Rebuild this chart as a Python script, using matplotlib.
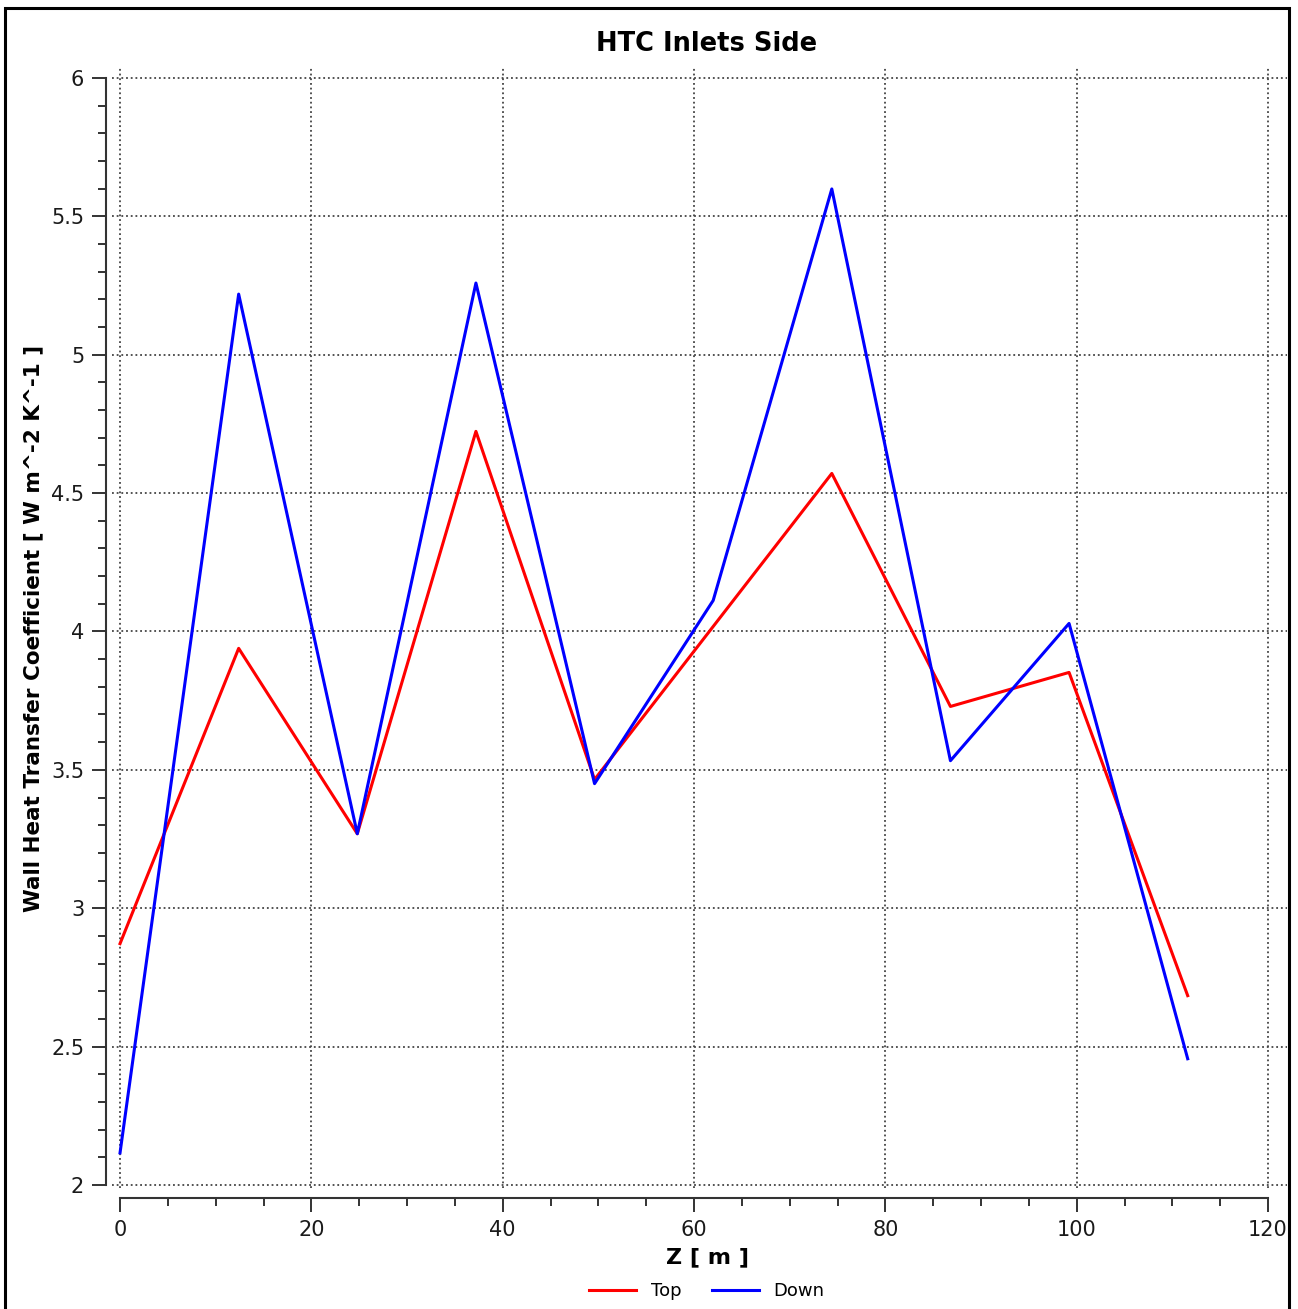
import matplotlib
matplotlib.use("Agg")
import matplotlib.pyplot as plt
from matplotlib.ticker import MultipleLocator
from matplotlib.patches import Rectangle

# Wall heat transfer coefficient along the inlets side
z = [0.0, 12.4, 24.8, 37.2, 49.6, 62.0, 74.4, 86.8, 99.2, 111.6]
htc_top = [2.872, 3.939, 3.269, 4.723, 3.465, 4.018, 4.571, 3.729, 3.852, 2.684]
htc_down = [2.116, 5.219, 3.269, 5.259, 3.450, 4.112, 5.599, 3.533, 4.029, 2.456]

title = "HTC Inlets Side"
xlabel = "Z [ m ]"
ylabel = "Wall Heat Transfer Coefficient [ W m^-2 K^-1 ]"

W, H, DPI = 1298, 1309, 100
fig = plt.figure(figsize=(W / DPI, H / DPI), dpi=DPI)
plt.rcParams['font.family'] = ['DejaVu Sans']

# axes placement in pixels (left, top, right, bottom)
L, T, R, B = 112, 68, 1287, 1188
ax = fig.add_axes([L / W, 1 - B / H, (R - L) / W, (B - T) / H])

ax.plot(z, htc_top, color='#ff0000', lw=2.2, label='Top', zorder=3)
ax.plot(z, htc_down, color='#0000ff', lw=2.2, label='Down', zorder=3)

ax.set_xlim(-0.84, 121.98)
ax.set_ylim(1.989, 6.036)

ax.xaxis.set_major_locator(MultipleLocator(20))
ax.xaxis.set_minor_locator(MultipleLocator(5))
ax.yaxis.set_major_locator(MultipleLocator(0.5))
ax.yaxis.set_minor_locator(MultipleLocator(0.1))

ax.grid(True, which='major', linestyle=(0, (1, 1.6)), color='#444444', lw=1.3)

for s in ('top', 'right'):
    ax.spines[s].set_visible(False)
ax.spines['left'].set_position(('outward', 4))
ax.spines['bottom'].set_position(('outward', 7))
ax.spines['left'].set_bounds(2, 6)
ax.spines['bottom'].set_bounds(0, 120)
for s in ('left', 'bottom'):
    ax.spines[s].set_linewidth(1.5)
    ax.spines[s].set_color('#333333')

ax.tick_params(which='major', length=10, width=1.4, color='#333333',
               labelsize=15, labelcolor='#1a1a1a', pad=6)
ax.tick_params(which='minor', length=5.5, width=1.4, color='#333333')
ax.set_yticklabels([f"{v:g}" for v in ax.get_yticks()])
ax.set_xticklabels([f"{v:g}" for v in ax.get_xticks()])

fig.text(707 / W, 1 - 44 / H, title, fontsize=18.5, fontweight='bold',
         ha='center', va='center')
fig.text(707 / W, 1 - 1257 / H, xlabel, fontsize=16, fontweight='bold',
         ha='center', va='center')
fig.text(33 / W, 1 - 628 / H, ylabel, fontsize=15.5, fontweight='bold',
         ha='center', va='center', rotation=90)

fig.legend(loc='center', bbox_to_anchor=(707 / W, 1 - 1291 / H), ncol=2,
           frameon=False, fontsize=13, handlelength=2.6, columnspacing=1.7,
           handletextpad=0.8)

fig.patches.append(Rectangle((5 / W, -0.01), (1289 - 5) / W, 1 - 8 / H + 0.01,
                             transform=fig.transFigure, fill=False,
                             edgecolor='black', lw=2.2))

fig.savefig("out.png", dpi=DPI)
